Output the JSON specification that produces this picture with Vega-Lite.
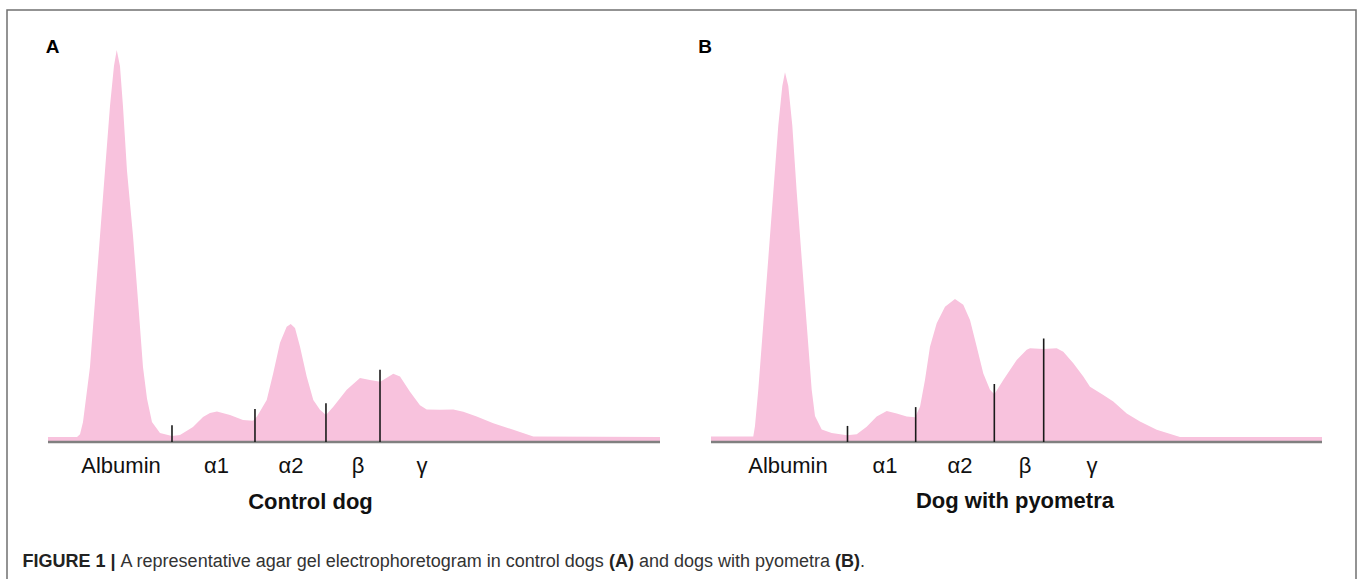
{
  "$schema": "https://vega.github.io/schema/vega-lite/v6.json",
  "autosize": "none",
  "width": 1349,
  "height": 575,
  "padding": {"left": 7, "top": 10, "right": 2, "bottom": -6},
  "background": "white",
  "view": {"stroke": "#707070", "strokeWidth": 1.5},
  "config": {"text": {"font": "Liberation Sans", "color": "#111111"}},
  "datasets": {
    "controlCurve": [{"x":0,"y":1.3},{"x":4.74,"y":1.3},{"x":5.23,"y":2.0},{"x":5.72,"y":5.1},{"x":6.86,"y":19.1},{"x":7.68,"y":36.0},{"x":8.5,"y":52.6},{"x":9.31,"y":69.1},{"x":10.13,"y":85.7},{"x":10.78,"y":95.9},{"x":11.23,"y":100},{"x":11.76,"y":95.9},{"x":12.25,"y":85.7},{"x":12.91,"y":69.1},{"x":13.89,"y":52.6},{"x":14.71,"y":36.0},{"x":15.52,"y":19.1},{"x":16.18,"y":11.0},{"x":16.99,"y":5.1},{"x":18.3,"y":2.3},{"x":20.26,"y":1.5},{"x":21.57,"y":1.8},{"x":23.69,"y":3.8},{"x":25.33,"y":6.4},{"x":26.47,"y":7.4},{"x":27.61,"y":7.8},{"x":29.74,"y":6.9},{"x":31.86,"y":5.6},{"x":33.5,"y":5.4},{"x":34.15,"y":6.5},{"x":35.74,"y":10.7},{"x":36.81,"y":17.6},{"x":37.91,"y":25.3},{"x":39.0,"y":29.4},{"x":39.66,"y":30.1},{"x":40.36,"y":29.1},{"x":41.18,"y":24.3},{"x":42.27,"y":16.7},{"x":43.35,"y":10.7},{"x":44.44,"y":8.2},{"x":45.42,"y":6.9},{"x":46.62,"y":9.0},{"x":48.81,"y":13.3},{"x":50.98,"y":16.3},{"x":52.61,"y":15.8},{"x":54.3,"y":15.4},{"x":56.42,"y":17.4},{"x":57.52,"y":16.7},{"x":59.15,"y":12.8},{"x":60.78,"y":9.4},{"x":61.88,"y":8.3},{"x":64.05,"y":8.2},{"x":66.23,"y":8.3},{"x":67.86,"y":7.7},{"x":70.05,"y":6.5},{"x":72.76,"y":4.8},{"x":76.03,"y":3.1},{"x":79.3,"y":1.4},{"x":100,"y":1.3}],
    "pyometraCurve": [{"x":0,"y":1.4},{"x":6.92,"y":1.4},{"x":7.2,"y":4.1},{"x":7.74,"y":13.3},{"x":8.56,"y":30.1},{"x":9.38,"y":46.9},{"x":10.2,"y":63.8},{"x":11.01,"y":80.7},{"x":11.67,"y":90.8},{"x":12.11,"y":94.3},{"x":12.65,"y":90.8},{"x":13.31,"y":80.7},{"x":14.03,"y":63.8},{"x":14.84,"y":46.9},{"x":15.66,"y":30.1},{"x":16.48,"y":13.3},{"x":17.02,"y":6.6},{"x":18.12,"y":3.2},{"x":19.75,"y":2.3},{"x":22.26,"y":1.7},{"x":23.85,"y":2.0},{"x":25.48,"y":3.9},{"x":27.12,"y":6.5},{"x":28.76,"y":7.9},{"x":30.39,"y":7.3},{"x":32.03,"y":6.5},{"x":33.39,"y":6.3},{"x":34.21,"y":9.0},{"x":35.02,"y":15.8},{"x":35.84,"y":24.3},{"x":36.94,"y":30.3},{"x":38.3,"y":34.5},{"x":39.93,"y":36.5},{"x":41.29,"y":35.0},{"x":42.39,"y":31.1},{"x":43.49,"y":24.3},{"x":44.57,"y":17.5},{"x":45.66,"y":13.3},{"x":46.37,"y":12.2},{"x":47.84,"y":15.8},{"x":50.03,"y":20.9},{"x":51.67,"y":23.5},{"x":52.21,"y":23.9},{"x":54.39,"y":23.7},{"x":56.58,"y":23.9},{"x":57.66,"y":23.0},{"x":59.3,"y":20.1},{"x":60.93,"y":16.7},{"x":62.03,"y":14.1},{"x":64.21,"y":12.0},{"x":65.84,"y":10.3},{"x":68.04,"y":7.3},{"x":70.21,"y":5.2},{"x":72.95,"y":3.1},{"x":76.76,"y":1.3},{"x":100,"y":1.3}],
    "scan": [{"start": 0, "end": 100, "level": 0}],
    "controlCuts": [{"x":20.26,"top":4.3,"floor":0},{"x":33.82,"top":8.4,"floor":0},{"x":45.42,"top":9.9,"floor":0},{"x":54.25,"top":18.4,"floor":0}],
    "pyometraCuts": [{"x":22.34,"top":4.1,"floor":0},{"x":33.5,"top":8.9,"floor":0},{"x":46.37,"top":14.8,"floor":0},{"x":54.45,"top":26.4,"floor":0}],
    "controlLabels": [{"fraction":"Albumin","x":11.93},{"fraction":"α1","x":27.53},{"fraction":"α2","x":39.71},{"fraction":"β","x":50.65},{"fraction":"γ","x":61.11}],
    "pyometraLabels": [{"fraction":"Albumin","x":12.6},{"fraction":"α1","x":28.48},{"fraction":"α2","x":40.75},{"fraction":"β","x":51.39},{"fraction":"γ","x":62.36}],
    "one": [{}]
  },
  "resolve": {"scale": {"x": "independent"}},
  "layer": [
    {
      "data": {"name": "controlCurve"},
      "mark": {"type": "area", "color": "#f8c2dd", "interpolate": "linear"},
      "encoding": {
        "x": {"field": "x", "type": "quantitative", "axis": null, "scale": {"domain": [-6.699, 213.725], "nice": false, "zero": false}},
        "y": {"field": "y", "type": "quantitative", "axis": null, "scale": {"domain": [-36.48, 110.2], "nice": false, "zero": false}}
      }
    },
    {
      "data": {"name": "scan"},
      "mark": {"type": "rule", "color": "#808080", "strokeWidth": 2.5},
      "encoding": {
        "x": {"field": "start", "type": "quantitative", "axis": null, "scale": {"domain": [-6.699, 213.725], "nice": false, "zero": false}},
        "x2": {"field": "end"},
        "y": {"field": "level", "type": "quantitative", "axis": null, "scale": {"domain": [-36.48, 110.2], "nice": false, "zero": false}}
      }
    },
    {
      "data": {"name": "controlCuts"},
      "mark": {"type": "rule", "color": "#1a1a1a", "strokeWidth": 1.6},
      "encoding": {
        "x": {"field": "x", "type": "quantitative", "axis": null, "scale": {"domain": [-6.699, 213.725], "nice": false, "zero": false}},
        "y": {"field": "floor", "type": "quantitative", "axis": null, "scale": {"domain": [-36.48, 110.2], "nice": false, "zero": false}},
        "y2": {"field": "top"}
      }
    },
    {
      "data": {"name": "controlLabels"},
      "mark": {"type": "text", "fontSize": 22, "align": "center", "baseline": "alphabetic"},
      "encoding": {
        "x": {"field": "x", "type": "quantitative", "axis": null, "scale": {"domain": [-6.699, 213.725], "nice": false, "zero": false}},
        "y": {"datum": -7.9, "type": "quantitative", "axis": null, "scale": {"domain": [-36.48, 110.2], "nice": false, "zero": false}},
        "text": {"field": "fraction", "type": "nominal"}
      }
    },
    {
      "data": {"name": "one"},
      "mark": {"type": "text", "fontSize": 22, "fontWeight": "bold", "align": "center", "baseline": "alphabetic", "text": "Control dog"},
      "encoding": {
        "x": {"datum": 42.89, "type": "quantitative", "axis": null, "scale": {"domain": [-6.699, 213.725], "nice": false, "zero": false}},
        "y": {"datum": -17.1, "type": "quantitative", "axis": null, "scale": {"domain": [-36.48, 110.2], "nice": false, "zero": false}}
      }
    },
    {
      "data": {"name": "one"},
      "mark": {"type": "text", "fontSize": 19, "fontWeight": "bold", "align": "center", "baseline": "alphabetic", "text": "A", "color": "#000000"},
      "encoding": {
        "x": {"datum": 0.75, "type": "quantitative", "axis": null, "scale": {"domain": [-6.699, 213.725], "nice": false, "zero": false}},
        "y": {"datum": 99.2, "type": "quantitative", "axis": null, "scale": {"domain": [-36.48, 110.2], "nice": false, "zero": false}}
      }
    },
    {
      "data": {"name": "one"},
      "mark": {"type": "text", "fontSize": 18, "fontWeight": "bold", "align": "left", "baseline": "alphabetic", "text": "FIGURE 1 |", "color": "#222222"},
      "encoding": {
        "x": {"datum": -4.17, "type": "quantitative", "axis": null, "scale": {"domain": [-6.699, 213.725], "nice": false, "zero": false}},
        "y": {"datum": -31.9, "type": "quantitative", "axis": null, "scale": {"domain": [-36.48, 110.2], "nice": false, "zero": false}}
      }
    },
    {
      "data": {"name": "one"},
      "mark": {"type": "text", "fontSize": 18, "align": "left", "baseline": "alphabetic", "text": "A representative agar gel electrophoretogram in control dogs", "color": "#333333"},
      "encoding": {
        "x": {"datum": 11.86, "type": "quantitative", "axis": null, "scale": {"domain": [-6.699, 213.725], "nice": false, "zero": false}},
        "y": {"datum": -31.9, "type": "quantitative", "axis": null, "scale": {"domain": [-36.48, 110.2], "nice": false, "zero": false}}
      }
    },
    {
      "data": {"name": "one"},
      "mark": {"type": "text", "fontSize": 18, "fontWeight": "bold", "align": "left", "baseline": "alphabetic", "text": "(A)", "color": "#222222"},
      "encoding": {
        "x": {"datum": 91.67, "type": "quantitative", "axis": null, "scale": {"domain": [-6.699, 213.725], "nice": false, "zero": false}},
        "y": {"datum": -31.9, "type": "quantitative", "axis": null, "scale": {"domain": [-36.48, 110.2], "nice": false, "zero": false}}
      }
    },
    {
      "data": {"name": "one"},
      "mark": {"type": "text", "fontSize": 18, "align": "left", "baseline": "alphabetic", "text": "and dogs with pyometra", "color": "#333333"},
      "encoding": {
        "x": {"datum": 96.57, "type": "quantitative", "axis": null, "scale": {"domain": [-6.699, 213.725], "nice": false, "zero": false}},
        "y": {"datum": -31.9, "type": "quantitative", "axis": null, "scale": {"domain": [-36.48, 110.2], "nice": false, "zero": false}}
      }
    },
    {
      "data": {"name": "one"},
      "mark": {"type": "text", "fontSize": 18, "fontWeight": "bold", "align": "left", "baseline": "alphabetic", "text": "(B)", "color": "#222222"},
      "encoding": {
        "x": {"datum": 128.59, "type": "quantitative", "axis": null, "scale": {"domain": [-6.699, 213.725], "nice": false, "zero": false}},
        "y": {"datum": -31.9, "type": "quantitative", "axis": null, "scale": {"domain": [-36.48, 110.2], "nice": false, "zero": false}}
      }
    },
    {
      "data": {"name": "one"},
      "mark": {"type": "text", "fontSize": 18, "align": "left", "baseline": "alphabetic", "text": ".", "color": "#333333"},
      "encoding": {
        "x": {"datum": 132.68, "type": "quantitative", "axis": null, "scale": {"domain": [-6.699, 213.725], "nice": false, "zero": false}},
        "y": {"datum": -31.9, "type": "quantitative", "axis": null, "scale": {"domain": [-36.48, 110.2], "nice": false, "zero": false}}
      }
    },
    {
      "data": {"name": "pyometraCurve"},
      "mark": {"type": "area", "color": "#f8c2dd", "interpolate": "linear"},
      "encoding": {
        "x": {"field": "x", "type": "quantitative", "axis": null, "scale": {"domain": [-115.221, 105.565], "nice": false, "zero": false}},
        "y": {"field": "y", "type": "quantitative", "axis": null, "scale": {"domain": [-36.48, 110.2], "nice": false, "zero": false}}
      }
    },
    {
      "data": {"name": "scan"},
      "mark": {"type": "rule", "color": "#808080", "strokeWidth": 2.5},
      "encoding": {
        "x": {"field": "start", "type": "quantitative", "axis": null, "scale": {"domain": [-115.221, 105.565], "nice": false, "zero": false}},
        "x2": {"field": "end"},
        "y": {"field": "level", "type": "quantitative", "axis": null, "scale": {"domain": [-36.48, 110.2], "nice": false, "zero": false}}
      }
    },
    {
      "data": {"name": "pyometraCuts"},
      "mark": {"type": "rule", "color": "#1a1a1a", "strokeWidth": 1.6},
      "encoding": {
        "x": {"field": "x", "type": "quantitative", "axis": null, "scale": {"domain": [-115.221, 105.565], "nice": false, "zero": false}},
        "y": {"field": "floor", "type": "quantitative", "axis": null, "scale": {"domain": [-36.48, 110.2], "nice": false, "zero": false}},
        "y2": {"field": "top"}
      }
    },
    {
      "data": {"name": "pyometraLabels"},
      "mark": {"type": "text", "fontSize": 22, "align": "center", "baseline": "alphabetic"},
      "encoding": {
        "x": {"field": "x", "type": "quantitative", "axis": null, "scale": {"domain": [-115.221, 105.565], "nice": false, "zero": false}},
        "y": {"datum": -7.9, "type": "quantitative", "axis": null, "scale": {"domain": [-36.48, 110.2], "nice": false, "zero": false}},
        "text": {"field": "fraction", "type": "nominal"}
      }
    },
    {
      "data": {"name": "one"},
      "mark": {"type": "text", "fontSize": 22, "fontWeight": "bold", "align": "center", "baseline": "alphabetic", "text": "Dog with pyometra"},
      "encoding": {
        "x": {"datum": 49.75, "type": "quantitative", "axis": null, "scale": {"domain": [-115.221, 105.565], "nice": false, "zero": false}},
        "y": {"datum": -16.9, "type": "quantitative", "axis": null, "scale": {"domain": [-36.48, 110.2], "nice": false, "zero": false}}
      }
    },
    {
      "data": {"name": "one"},
      "mark": {"type": "text", "fontSize": 19, "fontWeight": "bold", "align": "center", "baseline": "alphabetic", "text": "B", "color": "#000000"},
      "encoding": {
        "x": {"datum": -0.98, "type": "quantitative", "axis": null, "scale": {"domain": [-115.221, 105.565], "nice": false, "zero": false}},
        "y": {"datum": 99.2, "type": "quantitative", "axis": null, "scale": {"domain": [-36.48, 110.2], "nice": false, "zero": false}}
      }
    }
  ]
}
